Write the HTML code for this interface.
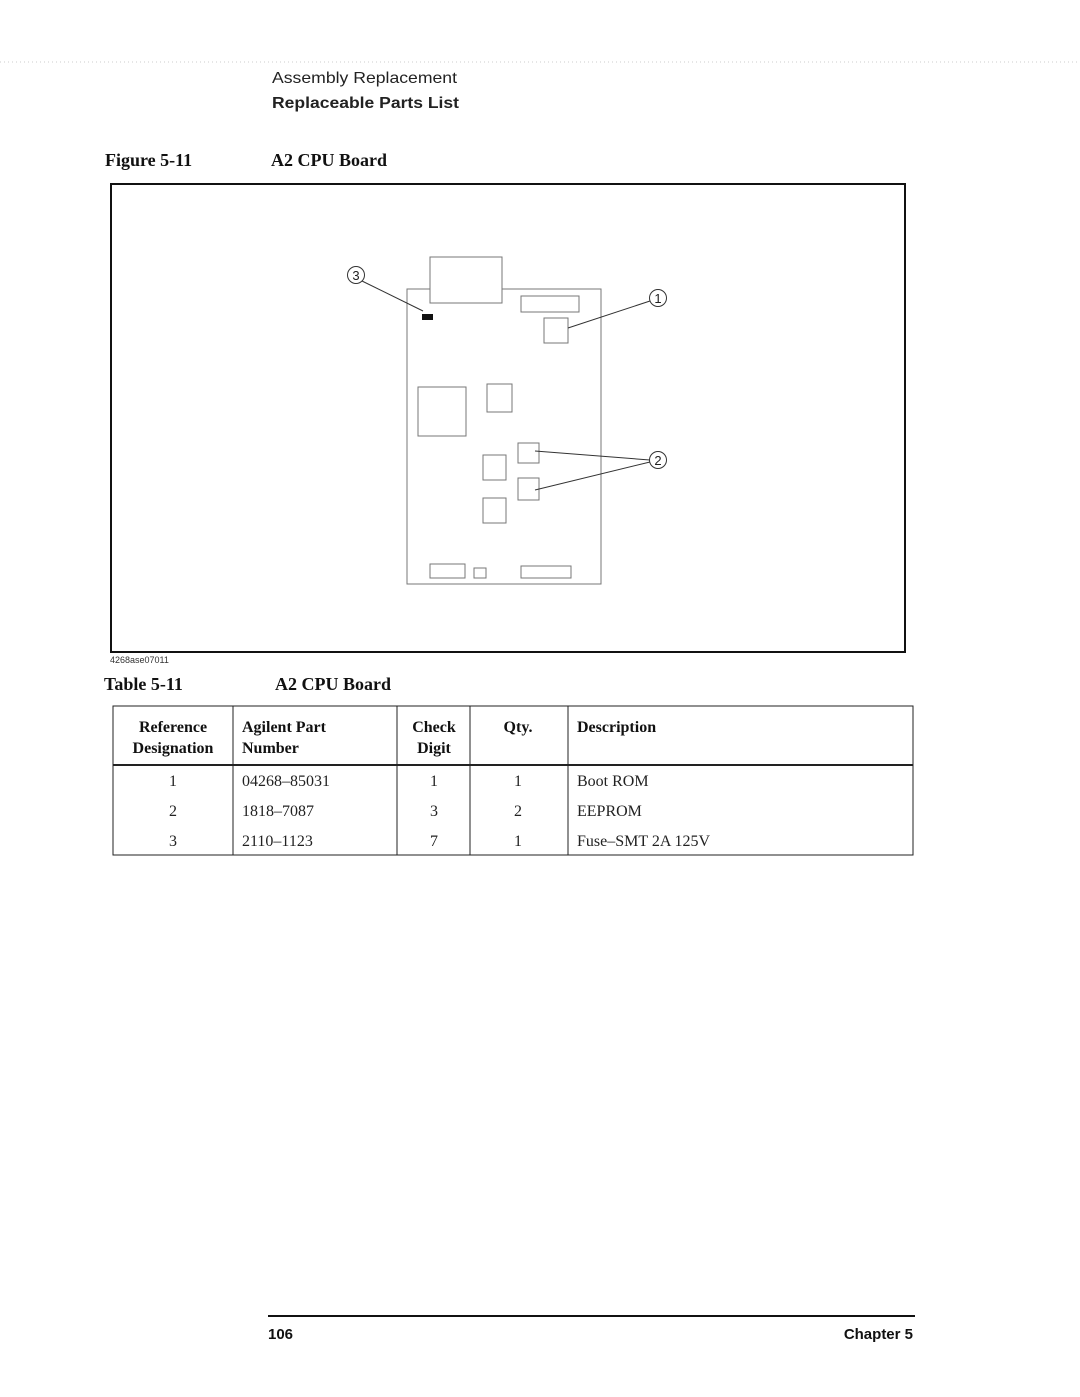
<!DOCTYPE html>
<html><head><meta charset="utf-8"><style>
html,body{margin:0;padding:0;background:#fff}
svg{display:block}
.s{font-family:"Liberation Sans",sans-serif}
.r{font-family:"Liberation Serif",serif}
</style></head><body>
<svg width="1080" height="1397" viewBox="0 0 1080 1397" xmlns="http://www.w3.org/2000/svg">
<line x1="0" y1="62" x2="1080" y2="62" stroke="#ccc" stroke-width="1" stroke-dasharray="1,3"/>
<text x="272" y="83" class="s" font-size="16" fill="#222" textLength="185" lengthAdjust="spacingAndGlyphs">Assembly Replacement</text>
<text x="272" y="108" class="s" font-size="16" font-weight="bold" fill="#222" textLength="187" lengthAdjust="spacingAndGlyphs">Replaceable Parts List</text>
<text x="105" y="166" class="r" font-size="18" font-weight="bold" fill="#111">Figure 5-11</text>
<text x="271" y="166" class="r" font-size="18" font-weight="bold" fill="#111">A2 CPU Board</text>
<rect x="111" y="184" width="794" height="468" fill="none" stroke="#111" stroke-width="2"/>
<text x="110" y="663" class="s" font-size="9" fill="#333">4268ase07011</text>
<g fill="none" stroke="#777" stroke-width="1">
<rect x="407" y="289" width="194" height="295"/>
<rect x="430" y="257" width="72" height="46" fill="#fff"/>
<rect x="521" y="296" width="58" height="16"/>
<rect x="544" y="318" width="24" height="25"/>
<rect x="418" y="387" width="48" height="49"/>
<rect x="487" y="384" width="25" height="28"/>
<rect x="483" y="455" width="23" height="25"/>
<rect x="518" y="443" width="21" height="20"/>
<rect x="518" y="478" width="21" height="22"/>
<rect x="483" y="498" width="23" height="25"/>
<rect x="430" y="564" width="35" height="14"/>
<rect x="474" y="568" width="12" height="10"/>
<rect x="521" y="566" width="50" height="12"/>
</g>
<rect x="422" y="314" width="11" height="6" fill="#111"/>
<g fill="none" stroke="#333" stroke-width="1">
<circle cx="356" cy="275" r="8.5"/>
<line x1="362" y1="281" x2="423" y2="311"/>
<circle cx="658" cy="298" r="8.5"/>
<line x1="650" y1="301" x2="568" y2="328"/>
<circle cx="658" cy="460" r="8.5"/>
<line x1="650" y1="460" x2="535" y2="451"/>
<line x1="650" y1="462" x2="535" y2="490"/>
</g>
<g class="s" font-size="13" fill="#222" text-anchor="middle">
<text x="356" y="280">3</text><text x="658" y="303">1</text><text x="658" y="465">2</text>
</g>
<text x="104" y="690" class="r" font-size="18" font-weight="bold" fill="#111">Table 5-11</text>
<text x="275" y="690" class="r" font-size="18" font-weight="bold" fill="#111">A2 CPU Board</text>
<g fill="none" stroke="#222" stroke-width="1">
<rect x="113" y="706" width="800" height="149"/>
<line x1="113" y1="765" x2="913" y2="765" stroke-width="2"/>
<line x1="233" y1="706" x2="233" y2="855"/>
<line x1="397" y1="706" x2="397" y2="855"/>
<line x1="470" y1="706" x2="470" y2="855"/>
<line x1="568" y1="706" x2="568" y2="855"/>
</g>
<g class="r" font-size="16" font-weight="bold" fill="#111">
<text x="173" y="732" text-anchor="middle">Reference</text>
<text x="173" y="753" text-anchor="middle">Designation</text>
<text x="242" y="732">Agilent Part</text>
<text x="242" y="753">Number</text>
<text x="434" y="732" text-anchor="middle">Check</text>
<text x="434" y="753" text-anchor="middle">Digit</text>
<text x="518" y="732" text-anchor="middle">Qty.</text>
<text x="577" y="732">Description</text>
</g>
<g class="r" font-size="16" fill="#222">
<text x="173" y="786" text-anchor="middle">1</text><text x="242" y="786">04268–85031</text><text x="434" y="786" text-anchor="middle">1</text><text x="518" y="786" text-anchor="middle">1</text><text x="577" y="786">Boot ROM</text>
<text x="173" y="816" text-anchor="middle">2</text><text x="242" y="816">1818–7087</text><text x="434" y="816" text-anchor="middle">3</text><text x="518" y="816" text-anchor="middle">2</text><text x="577" y="816">EEPROM</text>
<text x="173" y="846" text-anchor="middle">3</text><text x="242" y="846">2110–1123</text><text x="434" y="846" text-anchor="middle">7</text><text x="518" y="846" text-anchor="middle">1</text><text x="577" y="846">Fuse–SMT 2A 125V</text>
</g>
<line x1="268" y1="1316" x2="915" y2="1316" stroke="#111" stroke-width="2"/>
<text x="268" y="1339" class="s" font-size="15" font-weight="bold" fill="#111">106</text>
<text x="913" y="1339" class="s" font-size="15" font-weight="bold" fill="#111" text-anchor="end">Chapter 5</text>
</svg>
</body></html>
